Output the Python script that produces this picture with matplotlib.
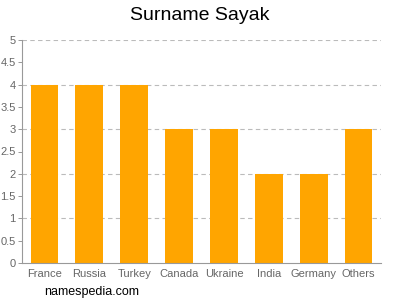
import matplotlib
matplotlib.use("Agg")
import matplotlib.pyplot as plt

plt.rcParams["font.family"] = ["Liberation Sans", "DejaVu Sans"]

countries = ["France", "Russia", "Turkey", "Canada", "Ukraine", "India", "Germany", "Others"]
counts = [4, 4, 4, 3, 3, 2, 2, 3]
yticks = [0, 0.5, 1, 1.5, 2, 2.5, 3, 3.5, 4, 4.5, 5]
ytick_labels = ["0", "0.5", "1", "1.5", "2", "2.5", "3", "3.5", "4", "4.5", "5"]

fig = plt.figure(figsize=(4, 3), dpi=100)
ax = fig.add_axes([0.055, 0.123, 0.8975, 0.744])

x = range(len(countries))
ax.bar(x, counts, width=0.62, color="#FFA500", zorder=2)

# dashed grid only on whole numbers
for v in [1, 2, 3, 4, 5]:
    ax.axhline(v, color="#bbbbbb", linestyle=(0, (4, 3)), linewidth=0.8, zorder=1)

ax.set_xlim(-0.5, len(countries) - 0.5)
ax.set_ylim(0, 5)
ax.set_xticks(list(x))
ax.set_xticklabels(countries)
ax.set_yticks(yticks)
ax.set_yticklabels(ytick_labels)
ax.tick_params(axis="both", colors="#888888", labelsize=8, length=3, width=0.6)
ax.tick_params(axis="x", length=0, pad=4)
ax.tick_params(axis="y", pad=1.5)
for lbl in ax.get_xticklabels() + ax.get_yticklabels():
    lbl.set_color("#666666")

for s in ["top", "right"]:
    ax.spines[s].set_visible(False)
for s in ["left", "bottom"]:
    ax.spines[s].set_color("#999999")
    ax.spines[s].set_linewidth(0.8)

fig.text(0.5, 0.95, "Surname Sayak", ha="center", va="center", fontsize=14)
fig.text(0.11, 0.027, "namespedia.com", ha="left", va="center", fontsize=9)

fig.savefig("out.png", dpi=100)
